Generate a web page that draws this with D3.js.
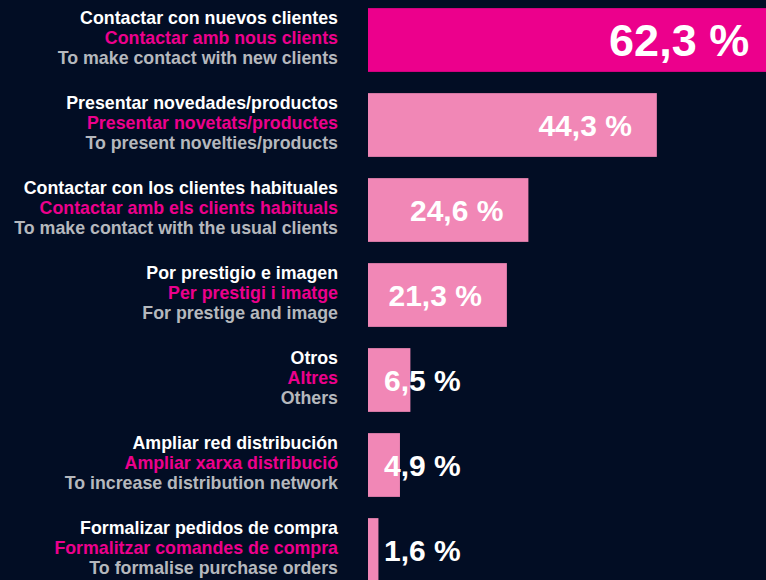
<!DOCTYPE html>
<html>
<head>
<meta charset="utf-8">
<script src="https://cdn.jsdelivr.net/npm/d3@7"></script>
<style>
  html, body { margin: 0; padding: 0; background: #020d24; }
  svg { display: block; }
  text { font-family: "Liberation Sans", Arial, Helvetica, sans-serif; font-weight: bold; }
</style>
</head>
<body>
<svg id="chart" width="766" height="580"></svg>
<script>
const labelsEs = [
  "Contactar con nuevos clientes",
  "Presentar novedades/productos",
  "Contactar con los clientes habituales",
  "Por prestigio e imagen",
  "Otros",
  "Ampliar red distribución",
  "Formalizar pedidos de compra"
];
const labelsCa = [
  "Contactar amb nous clients",
  "Presentar novetats/productes",
  "Contactar amb els clients habituals",
  "Per prestigi i imatge",
  "Altres",
  "Ampliar xarxa distribució",
  "Formalitzar comandes de compra"
];
const labelsEn = [
  "To make contact with new clients",
  "To present novelties/products",
  "To make contact with the usual clients",
  "For prestige and image",
  "Others",
  "To increase distribution network",
  "To formalise purchase orders"
];
const values = [62.3, 44.3, 24.6, 21.3, 6.5, 4.9, 1.6];

const width = 766, height = 580;
const barLeft = 368;
const labelRight = 338;

const svg = d3.select("#chart");

const x = d3.scaleLinear().domain([0, 100]).range([barLeft, barLeft + 652]);
const y = d3.scaleBand()
  .domain(d3.range(values.length))
  .range([-2.5, 592.5])
  .paddingInner(0.25)
  .paddingOuter(0.125);

const fmt = v => v.toFixed(1).replace(".", ",") + " %";

const rows = svg.selectAll("g.row")
  .data(values)
  .enter()
  .append("g")
  .attr("class", "row");

rows.append("rect")
  .attr("x", x(0))
  .attr("y", (d, i) => y(i))
  .attr("width", d => x(d) - x(0))
  .attr("height", y.bandwidth())
  .attr("fill", (d, i) => i === 0 ? "#ec008c" : "#f187b6");

const lines = [
  { arr: labelsEs, color: "#ffffff", dy: -20 },
  { arr: labelsCa, color: "#ec008c", dy: 0 },
  { arr: labelsEn, color: "#b5b8bd", dy: 20 }
];
lines.forEach(l => {
  rows.append("text")
    .attr("x", labelRight)
    .attr("y", (d, i) => y(i) + y.bandwidth() / 2 + l.dy + 4)
    .attr("text-anchor", "end")
    .attr("font-size", "17.8px")
    .attr("fill", l.color)
    .text((d, i) => l.arr[i]);
});

// value labels: right-aligned inside the bar, pushed out for short bars
rows.append("text")
  .attr("class", "val")
  .attr("y", (d, i) => y(i) + y.bandwidth() / 2)
  .attr("dy", "0.36em")
  .attr("font-size", (d, i) => i === 0 ? "45px" : "30px")
  .attr("fill", "#ffffff")
  .text(d => fmt(d))
  .each(function (d) {
    const w = this.getComputedTextLength();
    const start = Math.max(x(d) - 25 - w, 384);
    d3.select(this).attr("x", start);
  });
</script>
</body>
</html>
